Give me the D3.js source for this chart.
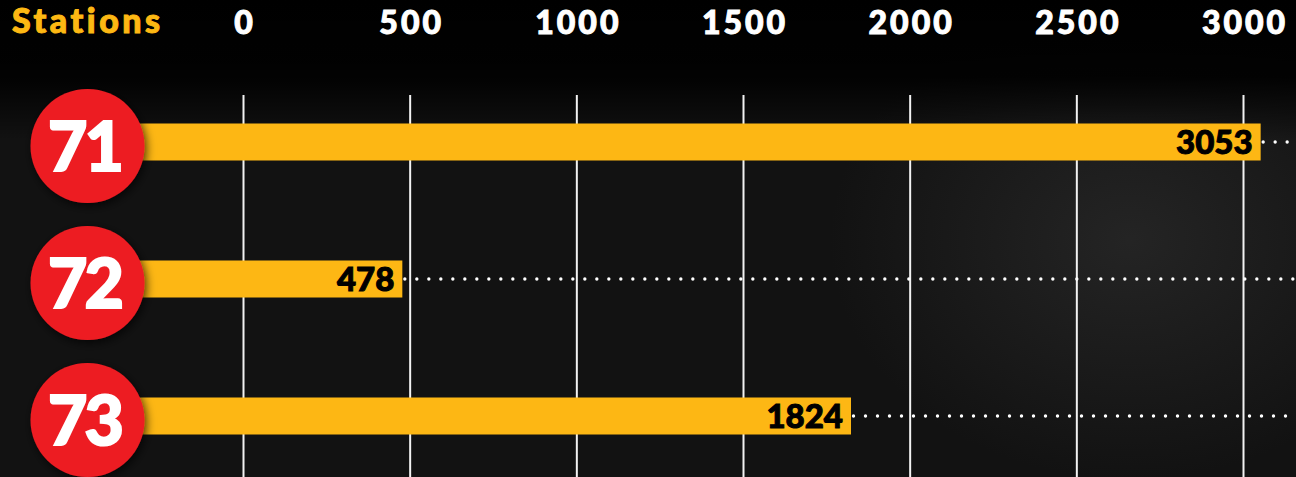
<!DOCTYPE html>
<html>
<head>
<meta charset="utf-8">
<script src="https://cdn.jsdelivr.net/npm/d3@7"></script>
<style>
  html, body { margin: 0; padding: 0; background: #111; overflow: hidden; }
  svg { display: block; }
</style>
</head>
<body>
<svg id="chart" width="1296" height="477"></svg>
<script>
const title = "Stations";
const categories = ["71", "72", "73"];
const values = [3053, 478, 1824];
const tickValues = [0, 500, 1000, 1500, 2000, 2500, 3000];

const W = 1296, H = 477;
const svg = d3.select("#chart");
const defs = svg.append("defs");

const topFade = defs.append("linearGradient").attr("id", "topFade")
  .attr("x1", 0).attr("y1", 0).attr("x2", 0).attr("y2", 1);
topFade.append("stop").attr("offset", "0%").attr("stop-color", "#000").attr("stop-opacity", 1);
topFade.append("stop").attr("offset", "55%").attr("stop-color", "#000").attr("stop-opacity", 0.9);
topFade.append("stop").attr("offset", "100%").attr("stop-color", "#000").attr("stop-opacity", 0);

const glow = defs.append("radialGradient").attr("id", "glow")
  .attr("cx", "0.5").attr("cy", "0.5").attr("r", "0.5");
glow.append("stop").attr("offset", "0%").attr("stop-color", "#2c2c2c").attr("stop-opacity", 0.7);
glow.append("stop").attr("offset", "100%").attr("stop-color", "#2c2c2c").attr("stop-opacity", 0);

const shadow = defs.append("filter").attr("id", "shadow")
  .attr("x", "-30%").attr("y", "-30%").attr("width", "160%").attr("height", "160%");
shadow.append("feDropShadow").attr("dx", 2).attr("dy", 3).attr("stdDeviation", 5)
  .attr("flood-color", "#000").attr("flood-opacity", 0.7);

// background
svg.append("rect").attr("width", W).attr("height", H).attr("fill", "#121212");
svg.append("ellipse").attr("cx", 1130).attr("cy", 240).attr("rx", 300).attr("ry", 240).attr("fill", "url(#glow)");
svg.append("rect").attr("width", W).attr("height", 140).attr("fill", "url(#topFade)");

const x = d3.scaleLinear().domain([0, 3000]).range([243, 1243]);
const y = d3.scalePoint().domain(categories).range([142, 416]);
const barH = 37;

// gridlines
const grid = svg.append("g").attr("transform", "translate(0,95)")
  .call(d3.axisTop(x).tickValues(tickValues).tickSize(-(H - 95)).tickFormat(""));
grid.select(".domain").remove();
grid.selectAll("line").attr("stroke", "#f2f2f2").attr("stroke-width", 2);

// axis labels
const ax = svg.append("g").attr("transform", "translate(0,34)")
  .call(d3.axisTop(x).tickValues(tickValues).tickSize(0).tickPadding(0).tickFormat(d3.format("d")));
ax.select(".domain").remove();
ax.selectAll("line").remove();
ax.selectAll("text")
  .attr("fill", "#fff")
  .attr("stroke", "#fff")
  .attr("stroke-width", 1)
  .attr("dx", "1.5px")
  .style("font-family", "Lato, sans-serif")
  .style("font-weight", 900)
  .style("font-size", "32px")
  .style("letter-spacing", "3px");

// title
svg.append("text").attr("x", 12).attr("y", 33).text(title)
  .attr("fill", "#FDB813")
  .attr("stroke", "#FDB813")
  .attr("stroke-width", 1)
  .style("font-family", "Lato, sans-serif")
  .style("font-weight", 900)
  .style("font-size", "34px")
  .style("letter-spacing", "3.5px");

const rows = categories.map((c, i) => ({ c, v: values[i] }));

// bars
svg.append("g").selectAll("rect").data(rows).join("rect")
  .attr("x", 110)
  .attr("y", d => y(d.c) - barH / 2)
  .attr("width", d => x(d.v) - 110)
  .attr("height", barH)
  .attr("fill", "#FDB714");

// dotted leaders
svg.append("g").selectAll("line").data(rows).join("line")
  .attr("x1", d => x(d.v) + 2.5)
  .attr("x2", 1294)
  .attr("y1", d => y(d.c))
  .attr("y2", d => y(d.c))
  .attr("stroke", "#fff")
  .attr("stroke-width", 3.4)
  .attr("stroke-linecap", "round")
  .attr("stroke-dasharray", "0 12");

// value labels
svg.append("g").selectAll("text").data(rows).join("text")
  .attr("x", d => x(d.v) - 8)
  .attr("y", d => y(d.c) + 12)
  .attr("text-anchor", "end")
  .attr("fill", "#000")
  .attr("stroke", "#000")
  .attr("stroke-width", 1)
  .style("font-family", "Lato, sans-serif")
  .style("font-weight", 900)
  .style("font-size", "33px")
  .text(d => d.v);

// circles
const badges = svg.append("g").selectAll("g").data(rows).join("g")
  .attr("transform", d => `translate(87.5,${y(d.c) + 4})`);
badges.append("circle").attr("r", 57).attr("fill", "#ED1C24").attr("filter", "url(#shadow)");
badges.append("text")
  .attr("x", -3)
  .attr("y", 25)
  .attr("text-anchor", "middle")
  .attr("fill", "#fff")
  .attr("stroke", "#fff")
  .attr("stroke-width", 2)
  .style("font-family", "Lato, sans-serif")
  .style("font-weight", 900)
  .style("font-size", "68px")
  .style("letter-spacing", "-3px")
  .text(d => d.c);
</script>
</body>
</html>
